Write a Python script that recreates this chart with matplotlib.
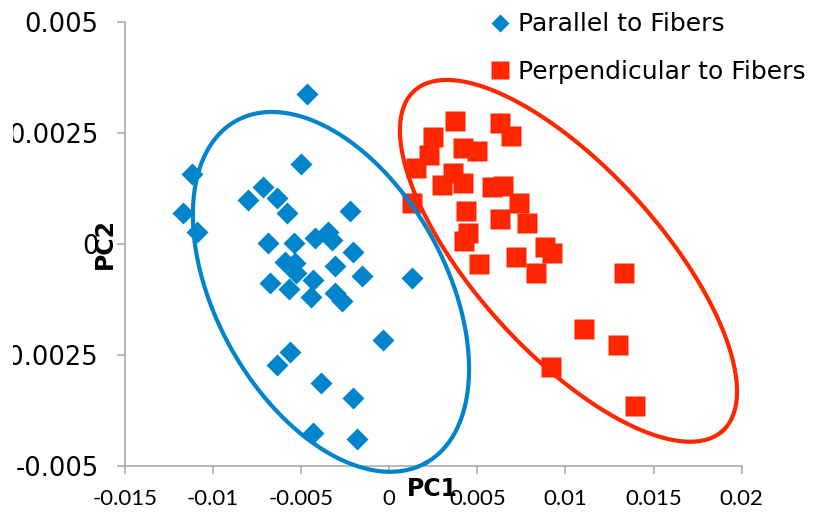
import matplotlib
matplotlib.use("Agg")
import matplotlib.pyplot as plt
import matplotlib.patches as mpatches
import numpy as np

# PCA scores, parallel to fibers
par_pc1 = [-0.00467, -0.00501, -0.01120, -0.01171, -0.01091, -0.00802, -0.00717,
           -0.00637, -0.00581, -0.00223, -0.00688, -0.00541, -0.00422, -0.00348,
           -0.00325, -0.00206, -0.00592, -0.00535, -0.00530, -0.00308, -0.00155,
           -0.00433, 0.00129, -0.00677, -0.00569, -0.00444, -0.00308, -0.00268,
           -0.00036, -0.00564, -0.00637, -0.00388, -0.00206, -0.00433, -0.00183]
par_pc2 = [0.00338, 0.00180, 0.00158, 0.00070, 0.00027, 0.00099, 0.00129,
           0.00104, 0.00070, 0.00074, 0.00002, 0.00002, 0.00014, 0.00027,
           0.00009, -0.00018, -0.00041, -0.00043, -0.00065, -0.00050, -0.00072,
           -0.00081, -0.00077, -0.00088, -0.00101, -0.00120, -0.00111, -0.00129,
           -0.00217, -0.00244, -0.00273, -0.00314, -0.00347, -0.00426, -0.00440]

# PCA scores, perpendicular to fibers
perp_pc1 = [0.00373, 0.00628, 0.00691, 0.00248, 0.00418, 0.00498, 0.00225,
            0.00152, 0.00129, 0.00299, 0.00362, 0.00418, 0.00583, 0.00645,
            0.00736, 0.00435, 0.00628, 0.00782, 0.00447, 0.00424, 0.00884,
            0.00923, 0.00719, 0.00509, 0.00833, 0.01332, 0.01105, 0.01298,
            0.00918, 0.01394]
perp_pc2 = [0.00277, 0.00273, 0.00244, 0.00242, 0.00217, 0.00210, 0.00201,
            0.00171, 0.00092, 0.00133, 0.00160, 0.00138, 0.00129, 0.00131,
            0.00092, 0.00074, 0.00056, 0.00047, 0.00025, 0.00007, -0.00007,
            -0.00021, -0.00029, -0.00045, -0.00065, -0.00065, -0.00192, -0.00228,
            -0.00277, -0.00365]

x_ticks = [-0.015, -0.01, -0.005, 0, 0.005, 0.01, 0.015, 0.02]
x_labels = ["-0.015", "-0.01", "-0.005", "0", "0.005", "0.01", "0.015", "0.02"]
y_ticks = [-0.005, -0.0025, 0, 0.0025, 0.005]
y_labels = ["-0.005", "-0.0025", "0", "0.0025", "0.005"]

BLUE = "#0084CC"
RED = "#FF2600"
GRAY = "#A6A6A6"


def ring(ax, center, a, b, angle, color):
    """Ellipse outline sized in pixels around a data-space centre."""
    t = np.linspace(0, 2 * np.pi, 400)
    th = np.deg2rad(angle)
    cx, cy = ax.transData.transform(center)
    px = cx + a * np.cos(t) * np.cos(th) - b * np.sin(t) * np.sin(th)
    py = cy + a * np.cos(t) * np.sin(th) + b * np.sin(t) * np.cos(th)
    xy = ax.transData.inverted().transform(np.column_stack([px, py]))
    ax.plot(xy[:, 0], xy[:, 1], color=color, lw=3, zorder=5, clip_on=False)


fig = plt.figure(figsize=(8.31, 5.14), dpi=100)
ax = fig.add_axes([0.1504, 0.094, 0.7421, 0.8626])

ax.set_xlim(-0.015, 0.02)
ax.set_ylim(-0.005, 0.005)

h1, = ax.plot(par_pc1, par_pc2, "D", color=BLUE, ms=10.7, mec="none",
              label="Parallel to Fibers", zorder=3)
h2, = ax.plot(perp_pc1, perp_pc2, "s", color=RED, ms=15, mec="none",
              label="Perpendicular to Fibers", zorder=3)

ring(ax, (-0.00331, -0.00108), 195.6, 114.8, -61, BLUE)
ring(ax, (0.01017, -0.00038), 229.5, 92, -47.8, RED)

for side in ["top", "right"]:
    ax.spines[side].set_visible(False)
for side in ["left", "bottom"]:
    ax.spines[side].set_color(GRAY)
    ax.spines[side].set_linewidth(1.1)

ax.set_xticks(x_ticks)
ax.set_xticklabels(x_labels, fontfamily="Lato", fontsize=16)
ax.set_yticks(y_ticks)
ax.set_yticklabels(y_labels, fontfamily="DejaVu Sans", fontsize=18.5)
ax.tick_params(axis="both", direction="out", length=6, width=1.1, color=GRAY)
ax.tick_params(axis="x", pad=11)
ax.tick_params(axis="y", pad=13)

ax.set_xlabel("PC1", fontsize=17, fontweight="bold")
ax.xaxis.set_label_coords(0.499, -0.053)
ax.xaxis.label.set_va("center")
ax.set_ylabel("PC2", fontsize=17, fontweight="bold")
ax.yaxis.set_label_coords(-0.032, 0.5)
ax.yaxis.label.set_va("center")

fig.legend(handles=[h1, h2], loc="upper left", bbox_to_anchor=(0.590, 0.976),
           frameon=False, fontsize=18, markerscale=0.85, handlelength=0.8,
           handletextpad=0.3, labelspacing=0.93, borderpad=0, borderaxespad=0)

# trimmed left margin
fig.add_artist(mpatches.Rectangle((0, 0), 13 / 831, 1, transform=fig.transFigure,
                                  facecolor="white", edgecolor="none", zorder=10))

fig.savefig("out.png", dpi=100)
